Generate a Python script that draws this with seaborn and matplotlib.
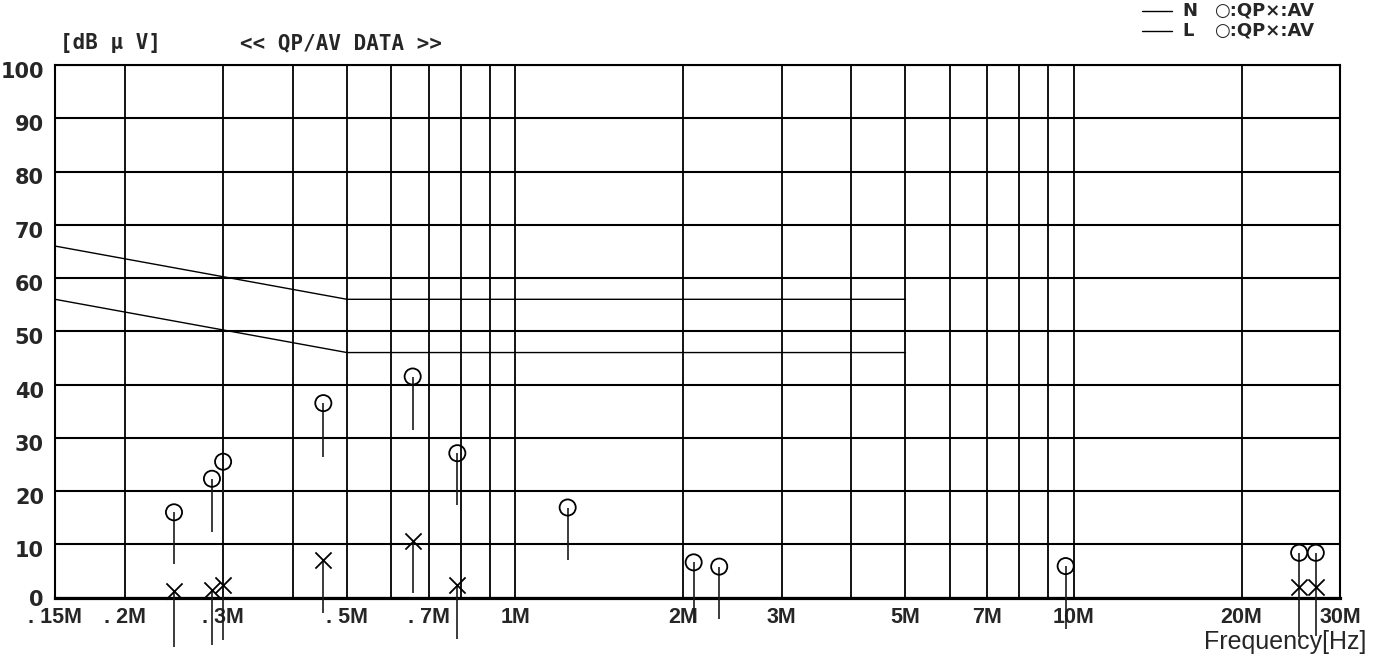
import numpy as np
import pandas as pd
import matplotlib
matplotlib.use("Agg")
import matplotlib.pyplot as plt
import matplotlib.transforms as mtransforms
from matplotlib.lines import Line2D
import seaborn as sns

nan = np.nan

# Measured emissions: frequency [MHz], level [dBuV]
freq_mhz = [0.245, 0.2865, 0.300, 0.4535, 0.6555, 0.788, 1.242, 2.088, 2.320, 9.68, 25.35, 27.15]
qp_level = [16.0, 22.3, 25.5, 36.5, 41.5, 27.1, 16.9, 6.6, 5.8, 5.9, 8.4, 8.4]
qp_stem_base = [6.2, 12.3, 15.6, 26.4, 31.5, 17.3, 7.0, -4.7, -4.1, -6.0, -7.5, -7.3]
av_level = [1.3, 1.5, 2.4, 7.1, 10.6, 2.4, nan, nan, nan, nan, 2.0, 2.0]
av_stem_base = [-9.3, -9.0, -8.0, -2.9, 0.9, -7.8, nan, nan, nan, nan, nan, nan]

# Limit lines (QP / AV)
limit_freq = [0.15, 0.5, 5.0]
qp_limit = [66, 56, 56]
av_limit = [56, 46, 46]

# Axis ticks and grid
x_tick_pos = [0.15, 0.2, 0.3, 0.5, 0.7, 1, 2, 3, 5, 7, 10, 20, 30]
x_tick_labels = [". 15M", ". 2M", ". 3M", ". 5M", ". 7M", "1M", "2M", "3M",
                 "5M", "7M", "10M", "20M", "30M"]
x_grid_pos = [0.2, 0.3, 0.4, 0.5, 0.6, 0.7, 0.8, 0.9,
              1, 2, 3, 4, 5, 6, 7, 8, 9, 10, 20]
y_ticks = list(range(0, 101, 10))

sns.set_theme(style="white")
SANS = ["Liberation Sans", "DejaVu Sans"]
plt.rcParams["font.family"] = SANS

W, H = 1376, 660
fig = plt.figure(figsize=(W / 100, H / 100), dpi=100)


def fx(x):
    return x / W


def fy(y):
    return 1 - y / H


left, right, top, bottom = 55, 1340, 65, 597.5
ax = fig.add_axes([fx(left), fy(bottom), (right - left) / W, (bottom - top) / H])
ax.set_xscale("log")
ax.set_xlim(0.15, 30)
ax.set_ylim(0, 100)

# grid
ax.set_xticks(x_grid_pos, minor=True)
ax.set_xticks(x_tick_pos)
ax.set_xticklabels(x_tick_labels)
ax.set_yticks(y_ticks)
ax.grid(True, which="both", axis="x", color="black", lw=1.3)
ax.grid(True, which="major", axis="y", color="black", lw=1.5)
ax.set_axisbelow(True)
ax.tick_params(axis="both", which="both", length=0)
ax.tick_params(axis="y", pad=8)
ax.tick_params(axis="x", pad=7)
for s in ["top", "left", "right"]:
    ax.spines[s].set_color("black")
    ax.spines[s].set_linewidth(1.5)
ax.spines["bottom"].set_color("black")
ax.spines["bottom"].set_linewidth(2.3)

for lab in ax.get_yticklabels():
    lab.set_fontfamily("DejaVu Sans")
    lab.set_fontweight("bold")
    lab.set_fontsize(15)
    if lab.get_text() != "0":
        lab.set_transform(lab.get_transform() +
                          mtransforms.ScaledTranslation(0, -5 / 100, fig.dpi_scale_trans))
for lab in ax.get_xticklabels():
    lab.set_fontfamily(SANS)
    lab.set_fontweight("bold")
    lab.set_fontsize(15.5)

# limit lines
sns.lineplot(x=limit_freq, y=qp_limit, color="black", lw=1.0, ax=ax)
sns.lineplot(x=limit_freq, y=av_limit, color="black", lw=1.0, ax=ax)

# stems hanging below each reading
ax.vlines(freq_mhz, qp_stem_base, qp_level, colors="#1a1a1a", lw=1.2, clip_on=False, zorder=3)
ax.vlines(freq_mhz, av_stem_base, av_level, colors="#1a1a1a", lw=1.2, clip_on=False, zorder=3)

# QP (circle) and AV (cross) readings
df = pd.DataFrame({"freq": freq_mhz, "qp": qp_level, "av": av_level})
sns.scatterplot(data=df, x="freq", y="qp", marker="o", s=135, color="black",
                linewidth=1.3, ax=ax, zorder=4, clip_on=False)
circles = ax.collections[-1]
circles.set_facecolor("none")
circles.set_edgecolor("black")
sns.scatterplot(data=df.dropna(), x="freq", y="av", marker="x", s=135, color="black",
                linewidth=1.3, ax=ax, zorder=4, clip_on=False)

ax.set_xlabel("")
ax.set_ylabel("")

# header texts
fig.text(fx(60), fy(43), "[dB μ V]", ha="left", va="center", fontsize=15,
         family="DejaVu Sans Mono", fontweight="bold")
fig.text(fx(240), fy(43), "<< QP/AV DATA >>", ha="left", va="center", fontsize=15,
         family="DejaVu Sans Mono", fontweight="bold")
fig.text(fx(1366), fy(642), "Frequency[Hz]", ha="right", va="center", fontsize=18,
         family=SANS)

# legend
for yy, name in [(11, "N"), (31, "L")]:
    fig.add_artist(Line2D([fx(1142), fx(1172)], [fy(yy), fy(yy)], color="black", lw=1.0))
    fig.text(fx(1182), fy(yy), name, ha="left", va="center", fontsize=13,
             fontweight="bold", family="DejaVu Sans")
    fig.text(fx(1214), fy(yy), "○:QP×:AV", ha="left", va="center", fontsize=13,
             fontweight="bold", family="DejaVu Sans")

fig.savefig("out.png", dpi=100, facecolor="white")
